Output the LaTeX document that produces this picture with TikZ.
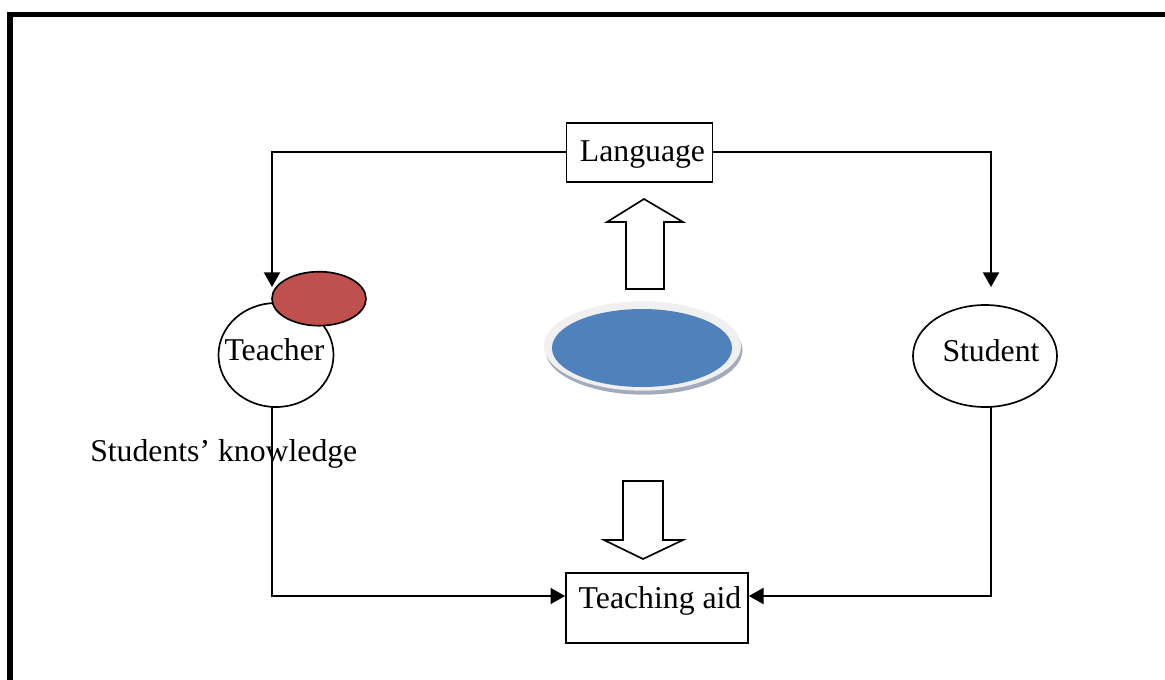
\documentclass[tikz,border=0pt]{standalone}
\usepackage{fontspec}
\setmainfont{Liberation Serif}
\usetikzlibrary{arrows.meta,shapes.geometric}

\definecolor{redfill}{HTML}{C0504D}
\definecolor{bluefill}{HTML}{4F81BD}
\definecolor{rimgray}{HTML}{F0F0F0}
\definecolor{rimshade}{HTML}{A3ABBA}

\tikzset{
  boxnode/.style={draw=black, line width=1.25pt, rectangle, inner sep=0pt},
  ovalnode/.style={draw=black, line width=1.25pt, ellipse, inner sep=0pt},
  txt/.style={inner sep=0pt, anchor=base, font=\fontsize{23.8}{28}\selectfont},
  conn/.style={line width=1.5pt, draw=black},
  arr/.style={conn, -{Triangle[length=11pt, width=12pt]}},
  blockarrow/.style={draw=black, line width=1.25pt, fill=white, line join=miter},
}

\begin{document}
\begin{tikzpicture}[x=0.75pt, y=-0.75pt]
  \clip (0,0) rectangle (1165,679);
  \fill[white] (0,0) rectangle (1165,679);

  % outer frame (left and top edges visible)
  \draw[line width=4.3pt] (10,700) -- (10,14.5) -- (1190,14.5);

  % boxes
  \node[boxnode, minimum width=109.5pt, minimum height=44.25pt] (lang) at (639.5,152.2) {};
  \node[txt] (langtxt) at (642.5,161.5) {Language};
  \node[boxnode, minimum width=136.5pt, minimum height=52.5pt] (aid) at (657,607.7) {};
  \node[txt] (aidtxt) at (660,608) {Teaching aid};

  % ellipses
  \node[ovalnode, minimum width=86.25pt, minimum height=78pt] (teacher) at (276,355) {};
  \node[txt] (teachertxt) at (274.5,360) {Teacher};
  \node[ovalnode, fill=redfill, minimum width=70.5pt, minimum height=40.5pt] (badge) at (319,298.7) {};
  \node[ovalnode, minimum width=108pt, minimum height=76.5pt] (student) at (985,356) {};
  \node[txt] (studenttxt) at (991,361.5) {Student};

  \node[txt, anchor=base west] (know) at (90,461.5) {Students’ knowledge};

  % central disc
  \fill[rimshade] (644,350) ellipse [x radius=73.9pt, y radius=33.5pt];
  \fill[rimgray] (642.5,346) ellipse [x radius=73.9pt, y radius=33.5pt];
  \fill[bluefill] (642,348) ellipse [x radius=67.5pt, y radius=29.25pt];

  % block arrows
  \draw[blockarrow] (626,289) -- (626,222) -- (607,222) -- (644,199)
    -- (683,222) -- (664,222) -- (664,289) -- cycle;
  \draw[blockarrow] (623,481) -- (663,481) -- (663,540) -- (683,540)
    -- (643,559) -- (604,540) -- (623,540) -- cycle;

  % connector end points
  \coordinate (tTop) at (272,287);
  \coordinate (sTop) at (991,287);
  \coordinate (tBot) at (272,406.5);
  \coordinate (sBot) at (991,406.5);
  \coordinate (tLow) at (272,596);
  \coordinate (sLow) at (991,596);

  % connectors
  \draw[arr] (lang.west) -| (tTop);
  \draw[arr] (lang.east) -| (sTop);
  \draw[arr] (tBot) -- (tLow) -- (tLow -| aid.west);
  \draw[arr] (sBot) -- (sLow) -- (sLow -| aid.east);
\end{tikzpicture}
\end{document}
